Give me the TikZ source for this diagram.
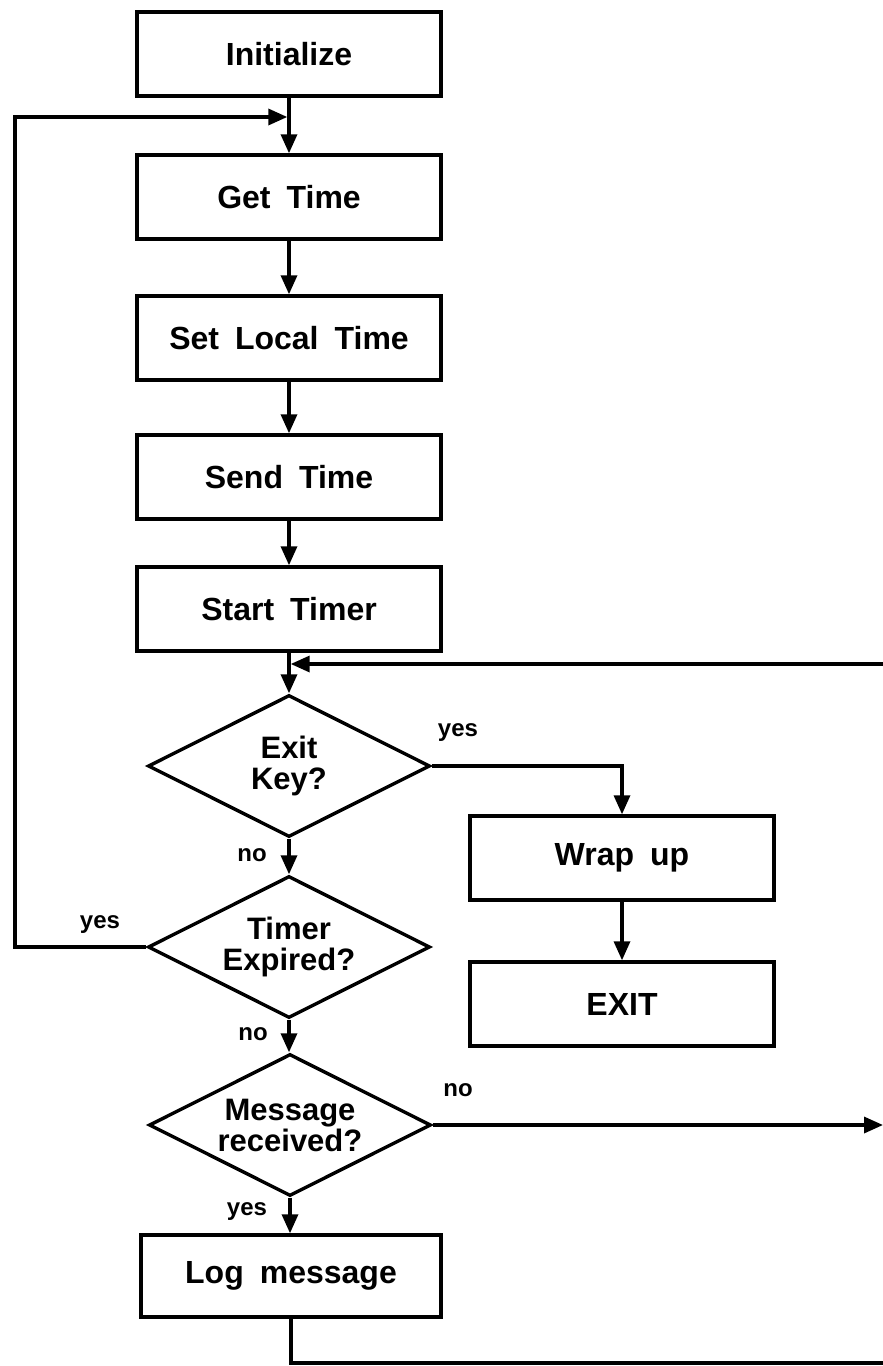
\documentclass[tikz,border=0pt]{standalone}
\usepackage{fontspec}
\setmainfont{Liberation Sans}[WordSpace=1.8]
\usetikzlibrary{shapes.geometric,arrows.meta}
\begin{document}
\begin{tikzpicture}[x=1pt,y=-1pt,
  line width=3.4pt, line join=miter,
  proc/.style={draw, rectangle, minimum width=304pt, minimum height=84pt, inner sep=0pt,
    font=\fontsize{32}{34}\selectfont\bfseries},
  dec/.style={draw, diamond, shape aspect=2, minimum width=282pt, minimum height=142pt, inner sep=0pt,
    align=center, font=\fontsize{31}{31}\selectfont\bfseries},
  lbl/.style={font=\fontsize{24}{24}\selectfont\bfseries, inner sep=0pt},
  arr/.style={-{Triangle[length=19pt,width=16pt]}}]
\useasboundingbox (0,0) rectangle (883,1366);

% process boxes
\node[proc] (init)  at (289,54)  {Initialize};
\node[proc] (get)   at (289,197) {Get Time};
\node[proc] (setl)  at (289,338) {Set Local Time};
\node[proc] (send)  at (289,477) {Send Time};
\node[proc] (start) at (289,609) {Start Timer};
\node[proc] (wrap)  at (622,858) {Wrap up};
\node[proc] (exit)  at (622,1004) {EXIT};
\node[proc, minimum width=300pt, minimum height=82pt] (log) at (291,1276) {Log message};

% decisions
\node[dec] (exitkey) at (289,766)  {Exit\\Key?};
\node[dec] (timer)   at (289,947)  {Timer\\Expired?};
\node[dec] (msg)     at (290,1125) {Message\\received?};

% junction / edge coordinates
\coordinate (j1) at (287.3,117);
\coordinate (lt) at (15,117);
\coordinate (lb) at (15,947);
\coordinate (j2) at (290.7,664);
\coordinate (rt) at (883,664);
\coordinate (rn) at (883,1125);
\coordinate (bl) at (291,1363);
\coordinate (br) at (883,1363);

% main column
\draw[arr] (init.south) -- (get.north);
\draw[arr] (get.south) -- (setl.north);
\draw[arr] (setl.south) -- (send.north);
\draw[arr] (send.south) -- (start.north);
\draw[arr] (start.south) -- (exitkey.north);
\draw[arr] (exitkey.south) -- (timer.north);
\draw[arr] (timer.south) -- (timer.south |- msg.north);
\draw[arr] (msg.south) -- (msg.south |- log.north);

% branches
\draw[arr] (exitkey.east) -| (wrap.north);
\draw[arr] (wrap.south) -- (exit.north);
\draw[arr] (timer.west) -- (lb) -- (lt) -- (j1);
\draw[arr] (rt) -- (j2);
\draw[arr] (msg.east) -- (rn);
\draw (log.south) -- (bl) -- (br);

% labels
\node[lbl] (l1) at (458,733)  {yes};
\node[lbl] (l2) at (252,855)  {no};
\node[lbl] (l3) at (100,925)  {yes};
\node[lbl] (l4) at (253,1034) {no};
\node[lbl] (l5) at (458,1090) {no};
\node[lbl] (l6) at (247,1212) {yes};
\end{tikzpicture}
\end{document}
